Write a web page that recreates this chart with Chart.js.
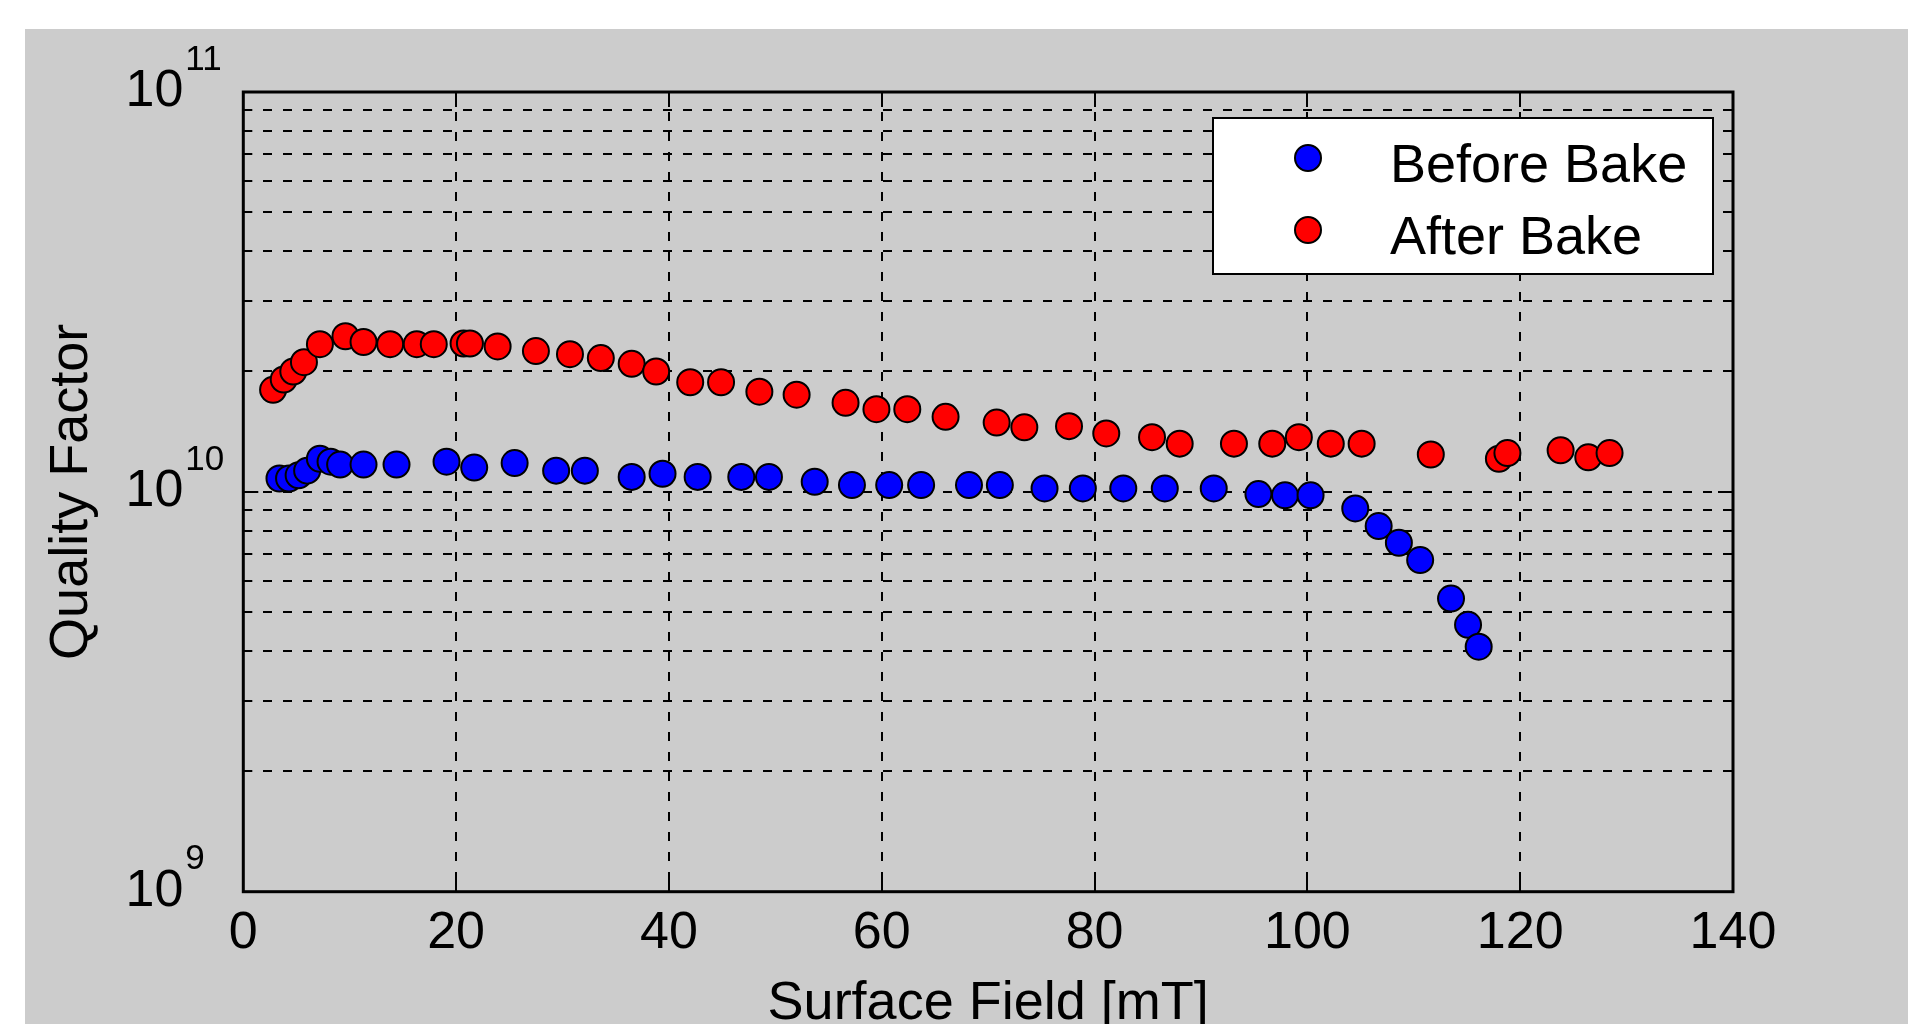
<!DOCTYPE html>
<html>
<head>
<meta charset="utf-8">
<script src="https://cdn.jsdelivr.net/npm/chart.js@4.4.1/dist/chart.umd.min.js"></script>
<style>
  html, body { margin: 0; padding: 0; background: #ffffff; }
  body { width: 1908px; height: 1024px; position: relative; overflow: hidden; }
  #fig { position: absolute; left: 25px; top: 29px; width: 1883px; height: 995px; background: #cccccc; }
  #plot { position: absolute; left: 0; top: 0; }
  #legend {
    position: absolute; left: 1212px; top: 117px; width: 502px; height: 158px;
    box-sizing: border-box; border: 2px solid #000; background: #fff;
    font-family: "Liberation Sans", Arial, sans-serif; font-size: 54px; line-height: 54px; color: #000;
  }
  #legend .mark {
    position: absolute; left: 80px; width: 28px; height: 28px; box-sizing: border-box;
    border: 2px solid #000; border-radius: 50%;
  }
  #legend .txt { position: absolute; left: 176px; white-space: nowrap; }
</style>
</head>
<body>
<div id="fig">
  <canvas id="plot" width="1883" height="995"></canvas>
</div>
<div id="legend"></div>
<script>
// Surface field [mT] and quality factor
const beforeField = [3.4, 4.3, 5.2, 6.0, 7.2, 8.2, 9.1, 11.3, 14.4, 19.1, 21.7, 25.5, 29.4, 32.1,
  36.5, 39.4, 42.7, 46.8, 49.4, 53.7, 57.2, 60.7, 63.7, 68.2, 71.1, 75.3, 78.9, 82.7, 86.6,
  91.2, 95.4, 97.9, 100.3, 104.5, 106.7, 108.6, 110.6, 113.5, 115.1, 116.1];
const beforeQ = [1.08e10, 1.08e10, 1.10e10, 1.13e10, 1.21e10, 1.19e10, 1.17e10, 1.17e10, 1.17e10,
  1.19e10, 1.15e10, 1.18e10, 1.13e10, 1.13e10, 1.09e10, 1.11e10, 1.09e10, 1.09e10, 1.09e10,
  1.06e10, 1.04e10, 1.04e10, 1.04e10, 1.04e10, 1.04e10, 1.02e10, 1.02e10, 1.02e10, 1.02e10,
  1.02e10, 9.87e9, 9.8e9, 9.8e9, 9.09e9, 8.21e9, 7.46e9, 6.75e9, 5.41e9, 4.65e9, 4.1e9];

const afterField = [2.8, 3.8, 4.7, 5.7, 7.2, 9.6, 11.3, 13.8, 16.3, 17.9, 20.7, 21.3, 23.9, 27.5,
  30.7, 33.6, 36.5, 38.8, 42.0, 44.9, 48.5, 52.0, 56.6, 59.5, 62.4, 66.0, 70.8, 73.4, 77.6,
  81.1, 85.4, 88.0, 93.1, 96.7, 99.2, 102.2, 105.1, 111.6, 118.0, 118.8, 123.8, 126.4, 128.4];
const afterQ = [1.80e10, 1.91e10, 2.00e10, 2.11e10, 2.34e10, 2.45e10, 2.37e10, 2.34e10, 2.34e10,
  2.34e10, 2.35e10, 2.35e10, 2.31e10, 2.25e10, 2.21e10, 2.16e10, 2.09e10, 2.00e10, 1.88e10,
  1.88e10, 1.78e10, 1.75e10, 1.67e10, 1.61e10, 1.61e10, 1.54e10, 1.49e10, 1.45e10, 1.46e10,
  1.40e10, 1.37e10, 1.32e10, 1.32e10, 1.32e10, 1.37e10, 1.32e10, 1.32e10, 1.24e10, 1.21e10,
  1.25e10, 1.27e10, 1.22e10, 1.25e10];

const seriesNames = ["Before Bake", "After Bake"];
const seriesColors = ["#0000ff", "#ff0000"];

const xTicks = [0, 20, 40, 60, 80, 100, 120, 140];
const yDecades = [1e9, 1e10, 1e11];

const FONT = '"Liberation Sans", Arial, sans-serif';

function toPoints(xs, ys) {
  return xs.map((x, i) => ({ x: x, y: ys[i] }));
}

// frame, inward tick marks and 10^n labels, all placed by the chart's scales
const axesDecor = {
  id: "axesDecor",
  afterDraw(chart) {
    const ctx = chart.ctx;
    const area = chart.chartArea;
    const xs = chart.scales.x;
    const ys = chart.scales.y;
    ctx.save();
    ctx.strokeStyle = "#000";
    ctx.lineWidth = 2;
    ctx.setLineDash([]);
    ctx.beginPath();
    xs.ticks.forEach(t => {
      const px = Math.round(xs.getPixelForValue(t.value));
      ctx.moveTo(px, area.bottom); ctx.lineTo(px, area.bottom - 15);
      ctx.moveTo(px, area.top); ctx.lineTo(px, area.top + 15);
    });
    ys.ticks.forEach(t => {
      const py = Math.round(ys.getPixelForValue(t.value));
      const len = yDecades.includes(t.value) ? 15 : 9;
      ctx.moveTo(area.left, py); ctx.lineTo(area.left + len, py);
      ctx.moveTo(area.right, py); ctx.lineTo(area.right - len, py);
    });
    ctx.stroke();

    ctx.lineWidth = 3;
    ctx.strokeRect(area.left, area.top, area.right - area.left, area.bottom - area.top);

    ctx.fillStyle = "#000";
    const baseRight = area.left - 60;
    yDecades.forEach(v => {
      const py = ys.getPixelForValue(v);
      ctx.font = "52px " + FONT;
      ctx.textAlign = "right";
      ctx.textBaseline = "middle";
      ctx.fillText("10", baseRight, py);
      ctx.font = "35px " + FONT;
      ctx.textAlign = "left";
      ctx.fillText(String(Math.round(Math.log10(v))), baseRight + 2, py - 32);
    });
    ctx.restore();
  }
};

function buildLegend(chart) {
  const box = document.getElementById("legend");
  chart.data.datasets.forEach((ds, i) => {
    const mark = document.createElement("span");
    mark.className = "mark";
    mark.style.background = ds.backgroundColor;
    mark.style.top = (25 + i * 72) + "px";
    const txt = document.createElement("span");
    txt.className = "txt";
    txt.textContent = ds.label;
    txt.style.top = (17 + i * 72) + "px";
    box.appendChild(mark);
    box.appendChild(txt);
  });
}

function draw() {
  const ctx = document.getElementById("plot").getContext("2d");
  const gridStyle = { color: "#000000", lineWidth: 2, drawTicks: false };
  const chart = new Chart(ctx, {
    type: "scatter",
    data: {
      datasets: [
        {
          label: seriesNames[0],
          data: toPoints(beforeField, beforeQ),
          backgroundColor: seriesColors[0],
          borderColor: "#000",
          borderWidth: 2,
          pointRadius: 13
        },
        {
          label: seriesNames[1],
          data: toPoints(afterField, afterQ),
          backgroundColor: seriesColors[1],
          borderColor: "#000",
          borderWidth: 2,
          pointRadius: 13
        }
      ]
    },
    options: {
      responsive: false,
      animation: false,
      devicePixelRatio: 1,
      layout: { padding: { top: 63, right: 175, left: 0, bottom: 0 } },
      plugins: {
        legend: { display: false },
        tooltip: { enabled: false }
      },
      scales: {
        x: {
          type: "linear",
          min: xTicks[0],
          max: xTicks[xTicks.length - 1],
          afterBuildTicks: scale => { scale.ticks = xTicks.map(v => ({ value: v })); },
          afterFit: scale => { scale.height = 132.3; },
          grid: gridStyle,
          border: { display: false, dash: [9, 11] },
          ticks: {
            autoSkip: false,
            maxRotation: 0,
            padding: 11,
            color: "#000",
            font: { family: FONT, size: 52 }
          },
          title: {
            display: true,
            text: "Surface Field [mT]",
            color: "#000",
            padding: 0,
            font: { family: FONT, size: 54, lineHeight: 0.75 }
          }
        },
        y: {
          type: "logarithmic",
          min: yDecades[0],
          max: yDecades[yDecades.length - 1],
          afterBuildTicks: scale => {
            const ticks = [];
            for (let d = 0; d < yDecades.length - 1; d++) {
              for (let k = 1; k <= 9; k++) ticks.push({ value: k * yDecades[d], major: k === 1 });
            }
            ticks.push({ value: yDecades[yDecades.length - 1], major: true });
            scale.ticks = ticks;
          },
          afterFit: scale => { scale.width = 218.3; },
          grid: gridStyle,
          border: { display: false, dash: [9, 11] },
          ticks: { display: false, autoSkip: false },
          title: {
            display: true,
            text: "Quality Factor",
            color: "#000",
            padding: { top: 15, bottom: 0 },
            font: { family: FONT, size: 54, lineHeight: 1.2 }
          }
        }
      }
    },
    plugins: [axesDecor]
  });
  buildLegend(chart);
}

document.fonts.load('54px "Liberation Sans"').then(draw, draw);
</script>
</body>
</html>
